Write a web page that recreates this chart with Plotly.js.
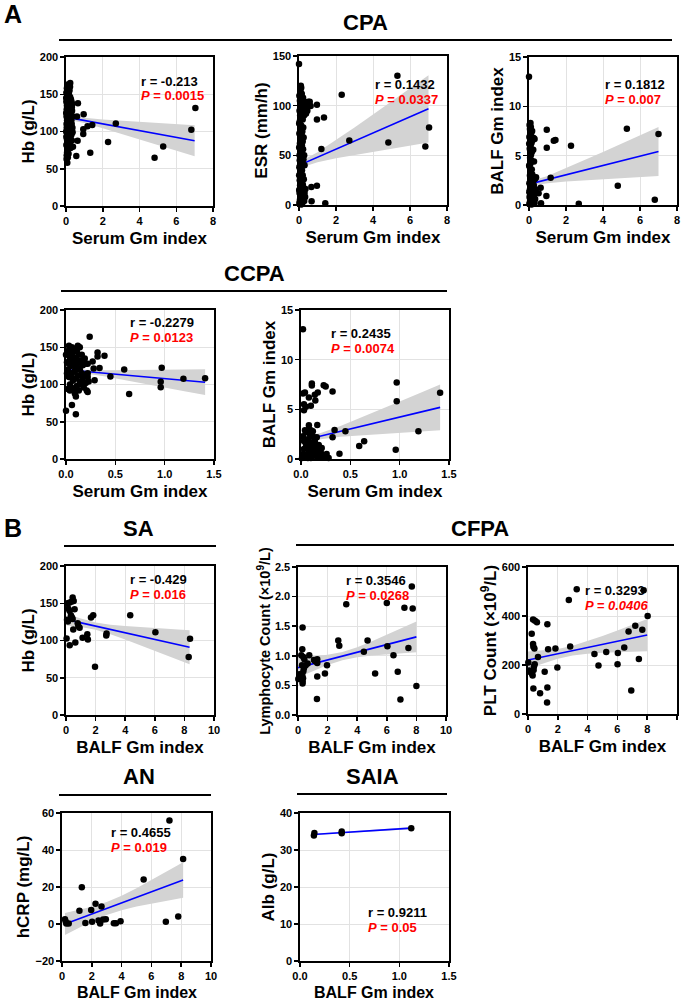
<!DOCTYPE html>
<html><head><meta charset="utf-8">
<script src="https://cdn.plot.ly/plotly-3.0.1.min.js"></script>
<style>html,body{margin:0;padding:0;background:#fff}#chart{width:682px;height:1002px}</style>
</head><body><div id="chart"></div>
<script>
// ---------------- DATA ----------------
// A / CPA : Hb vs Serum Gm index
const cpaHbPts = [[0.96,123],[0.65,138],[0.6,120],[0.94,103],[0.94,96.6],[1.17,107],[1.43,108.8],[0.63,87.6],[0.38,79.6],[0.56,67],[1.32,71.5],[2.29,85.8],[2.71,110.6],[4.82,64.7],[5.29,80],[6.82,102.5],[7.04,131.7],[0.23,165],
[0.02,140],[0.05,135],[0.08,128],[0.1,145],[0.03,120],[0.06,115],[0.12,110],[0.15,125],[0.18,132],[0.2,118],[0.04,105],[0.07,100],[0.09,95],[0.11,138],[0.14,142],[0.16,150],[0.19,155],[0.22,160],[0.1,163],[0.05,158],[0.02,152],[0.08,148],[0.13,130],[0.17,122],[0.21,112],[0.24,108],[0.26,127],[0.28,136],[0.3,140],[0.32,133],[0.25,119],[0.27,101],[0.23,96],[0.2,92],[0.18,88],[0.15,85],[0.12,80],[0.09,76],[0.06,72],[0.04,68],[0.03,63],[0.07,58],[0.1,65],[0.14,70],[0.02,82],[0.05,90],[0.08,110],[0.11,117],[0.16,103],[0.19,98],[0.22,125],[0.29,115],[0.33,128],[0.35,120],[0.31,110],[0.26,90],[0.21,83],[0.17,78],[0.3,96],[0.01,100],[0.01,125],[0.01,145],[0.04,130],[0.06,140],[0.09,122],[0.13,100],[0.18,140],[0.23,146],[0.27,143],[0.2,135],[0.15,113],[0.12,93],[0.07,86],[0.03,110],[0.35,105],[0.34,137],[0.24,131],[0.11,153],[0.08,137],[0.16,118],[0.06,97],[0.2,104],[0.28,124],[0.14,127],[0.1,104],[0.02,93],[0.36,99],[0.25,78],[0.32,88]];
const cpaHbFitX = [0,0.5,1,2,3,4,5,6,7];
const cpaHbFitY = [119.3,117.1,114.8,110.2,105.7,101.2,96.7,92.1,87.6];
const cpaHbLo   = [116.1,114.1,111.3,104.4,97.1,89.7,82.1,74.5,66.9];
const cpaHbHi   = [122.5,120.1,118.3,116.0,114.3,112.7,111.3,109.7,108.3];

// A / CPA : ESR vs Serum Gm index
const cpaEsrPts = [[0,142],[0.58,104],[0.63,99.6],[0.97,101],[0.97,86],[1.35,88],[2.31,111],[5.32,130],[1.21,56.5],[2.72,65],[4.83,63],[6.83,59],[7.03,78],[0.67,18],[0.97,19.5],[0.68,3.7],[1.42,1.7],
[0.02,2],[0.05,5],[0.1,8],[0.15,3],[0.2,10],[0.25,6],[0.03,12],[0.08,15],[0.12,18],[0.18,22],[0.22,14],[0.3,12],[0.04,25],[0.07,28],[0.11,32],[0.16,35],[0.2,30],[0.26,26],[0.02,38],[0.06,40],[0.1,44],[0.14,48],[0.19,42],[0.24,46],[0.3,40],[0.03,50],[0.08,54],[0.12,58],[0.17,52],[0.22,56],[0.05,62],[0.1,66],[0.15,70],[0.2,64],[0.25,68],[0.02,72],[0.07,76],[0.12,80],[0.18,74],[0.23,78],[0.04,84],[0.09,88],[0.14,92],[0.2,86],[0.27,90],[0.03,95],[0.08,98],[0.13,102],[0.18,96],[0.25,100],[0.33,97],[0.4,100],[0.45,95],[0.35,92],[0.05,105],[0.1,108],[0.15,112],[0.08,115],[0.12,118],[0.1,120],[0.02,110],[0.06,20],[0.16,60],[0.28,50],[0.01,58],[0.01,82],[0.01,30],[0.01,15],[0.04,45],[0.13,38],[0.09,72],[0.21,20],[0.28,4],[0.33,8],[0.35,16],[0.17,1],[0.11,0.5],[0.06,90],[0.22,108],[0.3,104],[0.5,104],[0.38,92]];
const cpaEsrFitX = [0,0.5,1,2,3,4,5,6,7];
const cpaEsrFitY = [39.9,44.0,48.0,56.2,64.3,72.4,80.6,88.7,96.8];
const cpaEsrLo   = [35.4,40.0,43.0,47.1,50.5,53.6,56.9,59.9,63.0];
const cpaEsrHi   = [44.4,48.0,53.0,65.3,78.1,91.2,104.3,117.5,130.6];

// A / CPA : BALF Gm vs Serum Gm index
const cpaBalfPts = [[0,13],[0.96,7.63],[0.96,5.8],[1.34,6.5],[1.43,6.6],[2.27,6.0],[5.29,7.74],[7.0,7.2],[1.17,2.76],[4.8,1.95],[6.8,0.54],[2.69,0.13],[0.94,0.9],[0.63,1.75],[0.52,1.2],[0.65,0.17],[0.38,2.8],
[0.02,0.1],[0.05,0.3],[0.1,0.2],[0.15,0.5],[0.2,0.1],[0.25,0.4],[0.3,0.2],[0.03,0.8],[0.08,1.0],[0.12,0.7],[0.18,1.2],[0.22,0.9],[0.28,1.1],[0.04,1.5],[0.09,1.8],[0.14,1.4],[0.2,1.6],[0.26,2.0],[0.02,2.2],[0.07,2.5],[0.11,2.1],[0.16,2.8],[0.21,2.4],[0.3,2.6],[0.05,3.0],[0.1,3.3],[0.15,3.6],[0.03,3.9],[0.08,4.2],[0.13,4.5],[0.06,4.8],[0.11,5.1],[0.16,5.4],[0.04,5.7],[0.09,6.0],[0.14,6.3],[0.2,6.6],[0.25,6.8],[0.3,6.7],[0.02,6.9],[0.07,7.1],[0.12,7.3],[0.17,7.5],[0.05,7.7],[0.1,7.9],[0.03,8.1],[0.08,8.3],[0.35,2.7],[0.02,1.3],[0.01,4.0],[0.01,6.2],[0.18,3.1],[0.23,5.6],[0.27,4.4],[0.33,0.6],[0.35,1.6],[0.12,0.05],[0.06,0.6],[0.19,2.0],[0.24,1.3]];
const cpaBalfFitX = [0,0.5,1,2,3,4,5,6,7];
const cpaBalfFitY = [2.11,2.35,2.58,3.06,3.53,4.00,4.48,4.95,5.42];
const cpaBalfLo   = [1.77,2.05,2.21,2.39,2.51,2.62,2.73,2.83,2.93];
const cpaBalfHi   = [2.45,2.65,2.95,3.73,4.55,5.38,6.23,7.07,7.91];

// A / CCPA : Hb vs Serum Gm index
const ccpaHbPts = [[0.24,164],[0.32,143],[0.32,137.7],[0.39,138.6],[0.34,122],[0.28,121.5],[0.29,105.8],[0.45,110.8],[0.59,120],[0.64,87.4],[0.97,122.4],[0.96,103.6],[0.96,96.4],[1.19,107.6],[1.41,108.5],[0.22,128],[0.0,64.6],[0.06,72.6],[0.1,60],[0.1,83.9],[0.02,94],[0.04,93],[0.22,90],[0.27,131],
[0.0,140],[0.01,130],[0.02,145],[0.02,120],[0.03,152],[0.03,110],[0.04,135],[0.04,100],[0.05,125],[0.05,142],[0.06,150],[0.06,115],[0.07,105],[0.07,138],[0.08,128],[0.08,95],[0.09,148],[0.09,118],[0.1,108],[0.1,135],[0.11,98],[0.11,125],[0.12,152],[0.12,112],[0.13,140],[0.13,92],[0.14,120],[0.14,104],[0.15,132],[0.15,100],[0.16,115],[0.17,108],[0.17,126],[0.18,96],[0.19,112],[0.2,128],[0.2,102],[0.21,92],[0.22,115],[0.22,110],[0.23,104],[0.03,128],[0.05,112],[0.06,132],[0.08,145],[0.1,122],[0.12,130],[0.16,140],[0.19,135],[0.14,150],[0.01,115],[0.04,92],[0.09,88],[0.11,145]];
const ccpaHbFitX = [0,0.2,0.4,0.6,0.8,1.0,1.2,1.41];
const ccpaHbFitY = [119.7,117.3,115.0,112.6,110.3,107.9,105.5,103.1];
const ccpaHbLo   = [116.5,114.7,110.8,106.0,101.1,96.1,91.0,85.8];
const ccpaHbHi   = [122.9,119.9,119.2,119.2,119.5,119.7,120.0,120.4];

// A / CCPA : BALF Gm vs Serum Gm index
const ccpaBalfPts = [[0.02,13.05],[0.97,7.7],[0.97,5.82],[1.41,6.66],[1.19,2.8],[0.96,0.94],[0.59,1.31],[0.64,1.78],[0.45,2.8],[0.34,2.93],[0.32,2.19],[0.39,0.54],[0.32,6.8],[0.23,7.43],[0.25,7.3],[0.11,7.6],[0.11,7.4],[0.17,6.7],[0.14,6.46],[0.08,6.2],[0.04,6.7],[0.02,6.6],[0.03,5.5],[0.03,4.9],[0.05,5.25],[0.1,5.35],[0.145,5.9],[0.08,3.4],[0.165,3.43],
[0.01,0.1],[0.02,0.5],[0.03,1.0],[0.04,0.2],[0.05,1.5],[0.06,0.4],[0.07,2.0],[0.08,0.8],[0.09,2.5],[0.1,0.1],[0.11,1.2],[0.12,2.8],[0.13,0.6],[0.14,1.8],[0.15,0.3],[0.16,2.2],[0.17,0.9],[0.18,1.4],[0.19,0.2],[0.2,0.7],[0.21,1.1],[0.22,0.4],[0.24,0.2],[0.26,0.5],[0.28,0.1],[0.05,2.7],[0.08,3.0],[0.1,2.9],[0.12,2.3],[0.03,1.8],[0.06,1.2],[0.11,0.5],[0.14,0.9],[0.02,2.3],[0.04,2.9],[0.13,1.5],[0.18,0.6],[0.09,1.7],[0.07,0.1],[0.16,1.0]];
const ccpaBalfFitX = [0,0.2,0.4,0.6,0.8,1.0,1.2,1.41];
const ccpaBalfFitY = [1.83,2.31,2.79,3.26,3.74,4.22,4.70,5.20];
const ccpaBalfLo   = [1.42,2.00,2.25,2.39,2.52,2.65,2.77,2.89];
const ccpaBalfHi   = [2.24,2.62,3.33,4.13,4.96,5.79,6.63,7.50];

// B / SA : Hb vs BALF Gm index
const saHbPts = [[0.45,157.8],[0.11,150],[0.22,150.7],[0.36,152],[0.52,153],[0.16,142.6],[0.25,139.5],[0.58,142],[0.34,133.6],[0.4,131],[0.29,129],[0.45,129],[0.07,128],[0.13,125.6],[0.49,114.8],[0.79,123.3],[0.83,119.3],[0.92,117],[0.63,97.3],[0.25,93.7],[0.04,102.7],[1.12,103.6],[1.44,108.5],[1.48,101.3],[1.69,131],[1.84,134],[1.96,64.6],[2.72,106.7],[2.74,109.4],[4.34,134],[6.04,111.2],[8.29,78],[8.38,102.2]];
const saHbFitX = [0.05,1,2,3,4,5,6,7,8.35];
const saHbFitY = [128.0,123.7,119.3,114.8,110.4,105.9,101.5,97.0,91.0];
const saHbLo   = [120.0,118.0,114.3,108.3,101.4,93.9,86.3,78.6,68.1];
const saHbHi   = [136.0,129.4,124.3,121.3,119.4,117.9,116.7,115.4,113.9];

// B / CFPA : Lymphocyte count vs BALF Gm index
const cfpaLymPts = [[0.02,0.61],[0.09,0.69],[0.18,0.65],[0.31,1.48],[0.29,1.11],[0.22,1.01],[0.36,0.98],[0.43,0.94],[0.27,0.84],[0.4,0.79],[0.36,0.74],[0.29,0.67],[0.34,0.62],[0.31,0.57],[0.31,0.53],[0.52,0.84],[0.65,0.87],[0.76,1.01],[1.08,0.93],[1.17,0.91],[1.3,0.88],[1.3,0.94],[1.3,0.65],[1.28,0.27],[1.82,0.7],[1.96,0.84],[2.72,1.26],[2.79,1.17],[3.26,1.87],[4.45,1.07],[4.7,1.26],[5.21,0.7],[6.0,1.89],[6.04,1.16],[6.45,1.01],[6.74,0.73],[6.92,0.26],[7.19,1.81],[7.46,1.13],[7.69,2.17],[7.75,1.8],[8.0,0.49]];
const cfpaLymFitX = [0,1,2,3,4,5,6,7,8];
const cfpaLymFitY = [0.80,0.865,0.93,0.995,1.06,1.125,1.19,1.255,1.32];
const cfpaLymLo   = [0.634,0.743,0.844,0.925,0.974,1.003,1.024,1.043,1.06];
const cfpaLymHi   = [0.966,0.987,1.016,1.065,1.146,1.247,1.356,1.467,1.58];

// B / CFPA : PLT count vs BALF Gm index
const cfpaPltPts = [[0.02,210],[0.09,177.5],[0.18,170.7],[0.27,164],[0.31,157],[0.38,180],[0.4,193.8],[0.45,203],[0.25,328],[0.34,386],[0.47,381],[0.6,374],[0.34,286],[0.36,275],[0.43,267],[0.36,104],[0.67,233],[0.81,85],[1.12,172],[1.3,366],[1.35,264],[1.3,108],[1.28,47],[1.84,267],[1.97,190],[2.74,465],[2.83,276],[3.27,509],[4.46,245],[4.73,198],[5.25,253],[6.03,249],[6.01,203],[6.46,271],[6.75,337],[6.93,96],[7.2,360],[7.44,225],[7.67,344],[7.76,505],[8.03,400]];
const cfpaPltFitX = [0,1,2,3,4,5,6,7,8];
const cfpaPltFitY = [220.2,233.0,245.7,258.5,271.2,284.0,296.7,309.5,322.2];
const cfpaPltLo   = [185.8,207.3,225.9,238.7,245.5,249.6,252.2,254.4,256.2];
const cfpaPltHi   = [254.6,258.7,265.5,278.3,296.9,318.4,341.2,364.6,388.2];

// B / AN : hCRP vs BALF Gm index
const anCrpPts = [[0.2,2.6],[0.25,1.2],[0.29,0.3],[0.45,0.3],[1.17,7.1],[1.33,19.8],[1.57,0.6],[1.96,7.6],[2.02,1.2],[2.25,11],[2.45,1.9],[2.56,0.3],[2.65,9.4],[2.76,2.4],[2.94,2.6],[3.48,0.45],[3.62,0.45],[3.93,1.5],[5.48,24.1],[6.97,1.2],[7.21,56],[7.8,4.0],[8.13,35.2]];
const anCrpFitX = [0.2,1,2,3,4,5,6,7,8.13];
const anCrpFitY = [0.0,2.4,5.4,8.4,11.4,14.4,17.4,20.4,23.8];
const anCrpLo   = [-6.0,-2.5,1.5,4.9,7.5,9.5,11.1,12.6,14.2];
const anCrpHi   = [6.0,7.3,9.3,11.9,15.3,19.3,23.7,28.2,33.4];

// B / SAIA : Alb vs BALF Gm index
const saiaAlbPts = [[0.14,33.9],[0.145,34.6],[0.42,35.0],[0.42,34.5],[1.12,35.9]];
const saiaAlbFitX = [0.13,0.42,1.12];
const saiaAlbFitY = [34.2,34.7,35.9];
const saiaAlbLo   = [34.0,34.55,35.6];
const saiaAlbHi   = [34.4,34.85,36.2];

// texts
const rLabels = ['r = -0.213','r = 0.1432','r = 0.1812','r = -0.2279','r = 0.2435','r = -0.429','r = 0.3546','r = 0.3293','r = 0.4655','r = 0.9211'];
const pValues = ['0.0015','0.0337','0.007','0.0123','0.0074','0.016','0.0268','0.0406','0.019','0.05'];
const xTitles = ['Serum Gm index','Serum Gm index','Serum Gm index','Serum Gm index','Serum Gm index','BALF Gm index','BALF Gm index','BALF Gm index','BALF Gm index','BALF Gm index'];
const yTitles = ['Hb (g/L)','ESR (mm/h)','BALF Gm index','Hb (g/L)','BALF Gm index','Hb (g/L)','Lymphocyte Count (×10<sup>9</sup>/L)','PLT Count (×10<sup>9</sup>/L)','hCRP (mg/L)','Alb (g/L)'];
const groupTitles = ['CPA','CCPA','SA','CFPA','AN','SAIA'];
const sectionLetters = ['A','B'];

// ---------------- LAYOUT / STYLE ----------------
const W = 682, H = 1002;
const FONT = 'Liberation Sans, Arial, Helvetica, sans-serif';
const px = v => v / W, py = v => 1 - v / H;

const series = [
  [cpaHbPts, cpaHbFitX, cpaHbFitY, cpaHbLo, cpaHbHi],
  [cpaEsrPts, cpaEsrFitX, cpaEsrFitY, cpaEsrLo, cpaEsrHi],
  [cpaBalfPts, cpaBalfFitX, cpaBalfFitY, cpaBalfLo, cpaBalfHi],
  [ccpaHbPts, ccpaHbFitX, ccpaHbFitY, ccpaHbLo, ccpaHbHi],
  [ccpaBalfPts, ccpaBalfFitX, ccpaBalfFitY, ccpaBalfLo, ccpaBalfHi],
  [saHbPts, saHbFitX, saHbFitY, saHbLo, saHbHi],
  [cfpaLymPts, cfpaLymFitX, cfpaLymFitY, cfpaLymLo, cfpaLymHi],
  [cfpaPltPts, cfpaPltFitX, cfpaPltFitY, cfpaPltLo, cfpaPltHi],
  [anCrpPts, anCrpFitX, anCrpFitY, anCrpLo, anCrpHi],
  [saiaAlbPts, saiaAlbFitX, saiaAlbFitY, saiaAlbLo, saiaAlbHi]
];

// plot boxes in pixels [left, right, top, bottom]
const boxes = [[66,213,57,206],[299,447,56,205],[529,677,57,205],[66,214,310,459],[301,449,310,459],
               [66,214,566,715],[298,446,567,715],[528,677,567,714],[62,211,813,961],[300,449,813,961]];
const axes = [
  {xr:[0,8],xd:2,xf:'',yr:[0,200],yd:50,yf:''},
  {xr:[0,8],xd:2,xf:'',yr:[0,150],yd:50,yf:''},
  {xr:[0,8],xd:2,xf:'',yr:[0,15],yd:5,yf:''},
  {xr:[0,1.5],xd:0.5,xf:'.1f',yr:[0,200],yd:50,yf:''},
  {xr:[0,1.5],xd:0.5,xf:'.1f',yr:[0,15],yd:5,yf:''},
  {xr:[0,10],xd:2,xf:'',yr:[0,200],yd:50,yf:''},
  {xr:[0,10],xd:2,xf:'',yr:[0,2.5],yd:0.5,yf:'.1f'},
  {xr:[0,10],xd:2,xf:'',yr:[0,600],yd:200,yf:''},
  {xr:[0,10],xd:2,xf:'',yr:[-20,60],yd:20,yf:''},
  {xr:[0,1.5],xd:0.5,xf:'.1f',yr:[0,40],yd:10,yf:''}
];
const yTitleSize = [17,17,17,17,17,17,14.5,17,17,17];
// bottom-row x titles are drawn as annotations so they are not pushed up by the page edge
const xTitleAsNote = [false,false,false,false,false,false,false,false,true,true];
// stats text positions [left px, r-line center y px]
const statPos = [[139,81],[373,84],[603,84],[128,322],[329,333],[128,579],[344,580],[583,590],[109,832],[366,912]];
const pItalicAll = [false,false,false,false,false,false,false,true,false,false];

const traces = [];
const layout = {
  width: W, height: H, margin: {l:0,r:0,t:0,b:0},
  paper_bgcolor: '#fff', plot_bgcolor: '#fff', showlegend: false,
  font: {family: FONT, color: '#000'},
  annotations: [], shapes: []
};

series.forEach((s, i) => {
  const n = i + 1, xa = 'x' + (n > 1 ? n : ''), ya = 'y' + (n > 1 ? n : '');
  const [pts, fx, fy, lo, hi] = s;
  traces.push({
    x: fx.concat(fx.slice().reverse()), y: hi.concat(lo.slice().reverse()),
    xaxis: xa, yaxis: ya, type: 'scatter', mode: 'lines', fill: 'toself',
    fillcolor: 'rgb(211,211,211)', line: {width: 0, color: 'rgba(0,0,0,0)'}, hoverinfo: 'skip'
  });
  traces.push({
    x: fx, y: fy, xaxis: xa, yaxis: ya, type: 'scatter', mode: 'lines',
    line: {color: '#0000ff', width: 1.6}
  });
  traces.push({
    x: pts.map(p => p[0]), y: pts.map(p => p[1]), xaxis: xa, yaxis: ya,
    type: 'scatter', mode: 'markers', cliponaxis: false,
    marker: {color: '#000', size: 6.5}
  });
  const b = boxes[i], a = axes[i];
  const common = {
    showline: true, mirror: true, linecolor: '#000', linewidth: 1.6,
    ticks: 'outside', ticklen: 4, tickwidth: 1.5, tickcolor: '#000',
    showgrid: true, gridcolor: '#e2e2e2', gridwidth: 1, zeroline: false,
    tickfont: {family: FONT, size: 11, color: '#000', weight: 'bold'},
    fixedrange: true
  };
  const xTitleFont = {family: FONT, size: 17, weight: 'bold', color: '#000'};
  layout['xaxis' + (n > 1 ? n : '')] = Object.assign({}, common, {
    domain: [px(b[0]), px(b[1])], anchor: ya, range: a.xr, dtick: a.xd, tick0: 0,
    tickformat: a.xf
  }, xTitleAsNote[i] ? {} : {title: {text: xTitles[i], font: xTitleFont, standoff: 6}});
  if (xTitleAsNote[i]) {
    layout.annotations.push({
      xref: 'paper', yref: 'paper', x: px((b[0] + b[1]) / 2), y: 0, xanchor: 'center', yanchor: 'bottom',
      text: xTitles[i], showarrow: false, font: Object.assign({}, xTitleFont, {size: 16}), borderpad: 0
    });
  }
  layout['yaxis' + (n > 1 ? n : '')] = Object.assign({}, common, {
    domain: [py(b[3]), py(b[2])], anchor: xa, range: a.yr, dtick: a.yd, tick0: 0,
    tickformat: a.yf,
    title: {text: yTitles[i], font: {family: FONT, size: yTitleSize[i], weight: 'bold', color: '#000'}, standoff: 1}
  });
  const sp = statPos[i];
  layout.annotations.push({
    xref: 'paper', yref: 'paper', x: px(sp[0]), y: py(sp[1]), xanchor: 'left', yanchor: 'middle',
    text: rLabels[i], showarrow: false, font: {family: FONT, size: 13, weight: 'bold', color: '#000'}
  });
  layout.annotations.push({
    xref: 'paper', yref: 'paper', x: px(sp[0]), y: py(sp[1] + 15), xanchor: 'left', yanchor: 'middle',
    text: pItalicAll[i] ? '<i>P = ' + pValues[i] + '</i>' : '<i>P</i> = ' + pValues[i],
    showarrow: false, font: {family: FONT, size: 13, weight: 'bold', color: '#ff0000'}
  });
});

// group titles and rules
const groupPos = [[365,22,59,672,40],[254,273,61,447,291],[138,528,64,216,546],[480,528,296,674,545],[139,776,59,211,795],[372,776,297,447,794]];
groupTitles.forEach((t, i) => {
  const g = groupPos[i];
  layout.annotations.push({xref:'paper', yref:'paper', x: px(g[0]), y: py(g[1]), xanchor:'center', yanchor:'middle',
    text: t, showarrow:false, font:{family: FONT, size: 22, weight:'bold', color:'#000'}});
  layout.shapes.push({type:'line', xref:'paper', yref:'paper', x0: px(g[2]), x1: px(g[3]), y0: py(g[4]), y1: py(g[4]),
    line:{color:'#000', width:2}});
});
const letterPos = [[2,14],[2,528]];
sectionLetters.forEach((t, i) => {
  layout.annotations.push({xref:'paper', yref:'paper', x: px(letterPos[i][0]), y: py(letterPos[i][1]), xanchor:'left', yanchor:'middle',
    text: t, showarrow:false, font:{family: FONT, size: 25, weight:'bold', color:'#000'}});
});

Plotly.newPlot('chart', traces, layout, {staticPlot: true, displayModeBar: false});
</script></body></html>
